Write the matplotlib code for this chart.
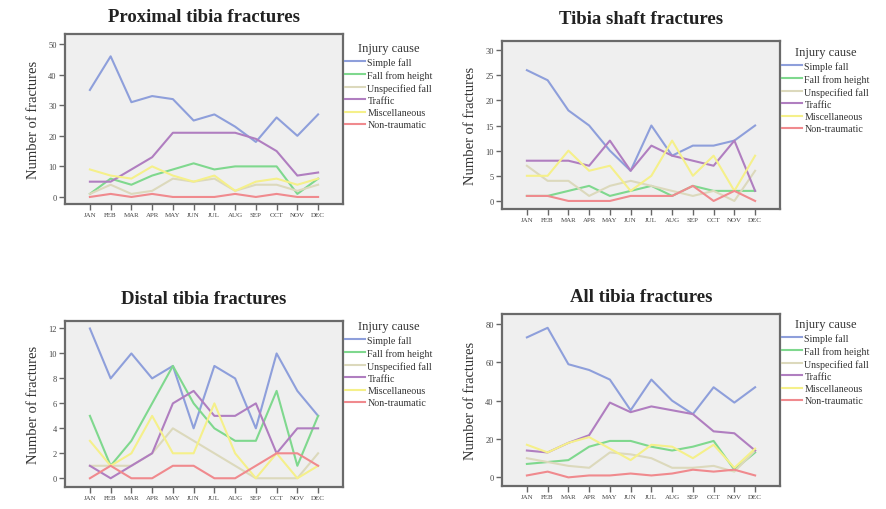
import matplotlib
matplotlib.use("Agg")
import matplotlib.pyplot as plt

plt.rcParams['font.family'] = ['Liberation Serif', 'DejaVu Serif']

months = ["JAN", "FEB", "MAR", "APR", "MAY", "JUN", "JUL", "AUG", "SEP", "OCT", "NOV", "DEC"]
causes = ["Simple fall", "Fall from height", "Unspecified fall", "Traffic",
          "Miscellaneous", "Non-traumatic"]
colors = ["#8e9fdb", "#7fd88e", "#dcd9bc", "#b07ec0", "#f5f08a", "#f08a8e"]

# proximal tibia fractures, one list per cause
prox_simple = [35, 46, 31, 33, 32, 25, 27, 23, 18, 26, 20, 27]
prox_height = [1, 6, 4, 7, 9, 11, 9, 10, 10, 10, 1, 6]
prox_unspec = [1, 4, 1, 2, 6, 5, 6, 2, 4, 4, 2, 4]
prox_traffic = [5, 5, 9, 13, 21, 21, 21, 21, 19, 15, 7, 8]
prox_misc = [9, 7, 6, 10, 7, 5, 7, 2, 5, 6, 4, 6]
prox_nontr = [0, 1, 0, 1, 0, 0, 0, 1, 0, 1, 0, 0]

# tibia shaft fractures
shaft_simple = [26, 24, 18, 15, 10, 6, 15, 9, 11, 11, 12, 15]
shaft_height = [1, 1, 2, 3, 1, 2, 3, 1, 3, 2, 2, 2]
shaft_unspec = [7, 4, 4, 1, 3, 4, 3, 2, 1, 2, 0, 6]
shaft_traffic = [8, 8, 8, 7, 12, 6, 11, 9, 8, 7, 12, 2]
shaft_misc = [5, 5, 10, 6, 7, 2, 5, 12, 5, 9, 2, 9]
shaft_nontr = [1, 1, 0, 0, 0, 1, 1, 1, 3, 0, 2, 0]

# distal tibia fractures
dist_simple = [12, 8, 10, 8, 9, 4, 9, 8, 4, 10, 7, 5]
dist_height = [5, 1, 3, 6, 9, 6, 4, 3, 3, 7, 1, 5]
dist_unspec = [1, 1, 1, 2, 4, 3, 2, 1, 0, 0, 0, 2]
dist_traffic = [1, 0, 1, 2, 6, 7, 5, 5, 6, 2, 4, 4]
dist_misc = [3, 1, 2, 5, 2, 2, 6, 2, 0, 2, 0, 1]
dist_nontr = [0, 1, 0, 0, 1, 1, 0, 0, 1, 2, 2, 1]

# all tibia fractures
all_simple = [73, 78, 59, 56, 51, 35, 51, 40, 33, 47, 39, 47]
all_height = [7, 8, 9, 16, 19, 19, 16, 14, 16, 19, 4, 13]
all_unspec = [10, 8, 6, 5, 13, 12, 10, 5, 5, 6, 3, 14]
all_traffic = [14, 13, 18, 22, 39, 34, 37, 35, 33, 24, 23, 14]
all_misc = [17, 13, 18, 21, 15, 9, 17, 16, 10, 17, 5, 15]
all_nontr = [1, 3, 0, 1, 1, 2, 1, 2, 4, 3, 4, 1]

W, H = 887, 510
fig = plt.figure(figsize=(W / 100, H / 100), dpi=100)


def px_axes(left, top, right, bottom):
    return fig.add_axes([left / W, 1 - bottom / H, (right - left) / W, (bottom - top) / H])


panels = [
    ("Proximal tibia fractures", (65, 35, 343, 205), (-2.3, 53.3), [0, 10, 20, 30, 40, 50],
     [prox_simple, prox_height, prox_unspec, prox_traffic, prox_misc, prox_nontr], 18, (345, 43)),
    ("Tibia shaft fractures", (502, 42, 780, 210), (-1.6, 31.8), [0, 5, 10, 15, 20, 25, 30],
     [shaft_simple, shaft_height, shaft_unspec, shaft_traffic, shaft_misc, shaft_nontr], 20, (782, 47)),
    ("Distal tibia fractures", (65, 322, 343, 488), (-0.7, 12.6), [0, 2, 4, 6, 8, 10, 12],
     [dist_simple, dist_height, dist_unspec, dist_traffic, dist_misc, dist_nontr], 300, (345, 321)),
    ("All tibia fractures", (502, 315, 780, 487), (-4.5, 85.2), [0, 20, 40, 60, 80],
     [all_simple, all_height, all_unspec, all_traffic, all_misc, all_nontr], 298, (782, 319)),
]

x = list(range(len(months)))
for title, box, ylim, yticks, series, title_y, leg_pos in panels:
    ax = px_axes(*box)
    ax.set_facecolor("#efefef")
    for vals, c, lab in zip(series, colors, causes):
        ax.plot(x, vals, color=c, lw=1.5, label=lab)
    ax.set_xlim(-1.2, 12.2)
    ax.set_ylim(*ylim)
    ax.set_xticks(x)
    ax.set_xticklabels(months, fontsize=5)
    ax.set_yticks(yticks)
    ax.tick_params(axis="both", direction="out", length=4, width=1, color="#666666",
                   labelcolor="#444444", pad=2)
    ax.tick_params(axis="y", labelsize=6)
    for sp in ax.spines.values():
        sp.set_color("#6a6a6a")
        sp.set_linewidth(1.6)
    ax.set_ylabel("Number of fractures", fontsize=10.5, color="#333333")
    ax.yaxis.set_label_coords(-0.09, 0.5)
    cx = (box[0] + box[2]) / 2
    fig.text(cx / W, 1 - title_y / H, title, ha="center", va="center",
             fontsize=13.5, fontweight="bold", color="#222222")
    leg = ax.legend(loc="upper left", bbox_to_anchor=(leg_pos[0] / W, 1 - leg_pos[1] / H),
                    bbox_transform=fig.transFigure, frameon=False, fontsize=7.2,
                    title="Injury cause", title_fontsize=9, handlelength=2.0,
                    handletextpad=0.25, labelspacing=0.32, borderpad=0, borderaxespad=0)
    for t in leg.get_texts():
        t.set_color("#333333")
    leg.get_title().set_color("#333333")

fig.savefig("out.png", dpi=100)
